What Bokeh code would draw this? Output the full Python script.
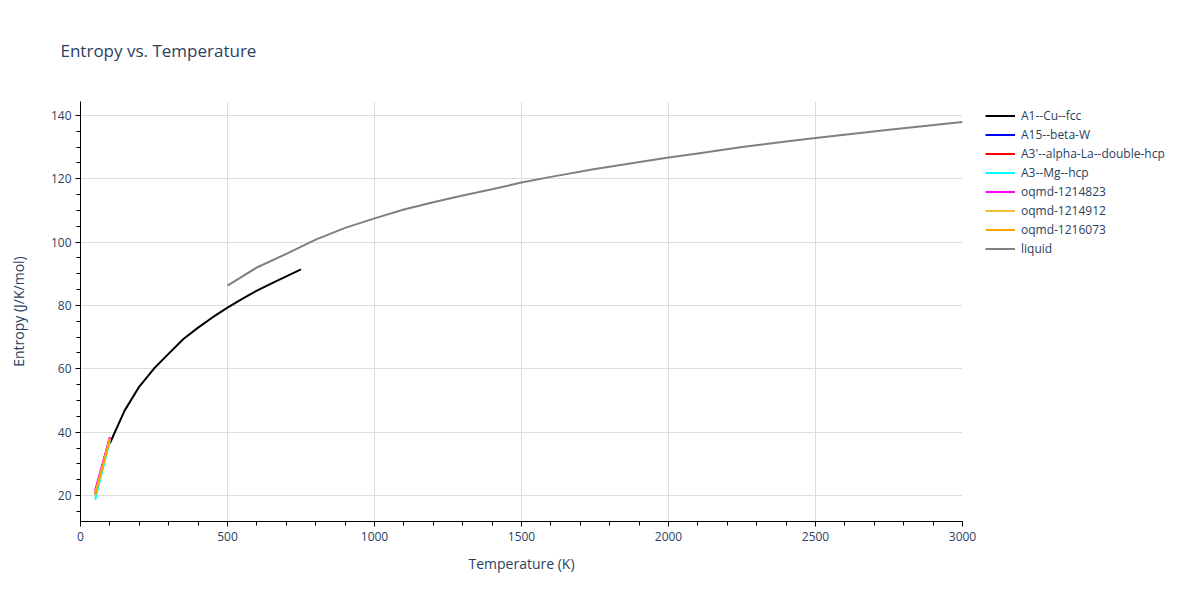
from bokeh.plotting import figure
from bokeh.models import Range1d, Legend, LegendItem, SingleIntervalTicker, Title
from bokeh.embed import file_html
from bokeh.resources import INLINE

# ---- data ----
T_fcc = [100, 150, 200, 250, 300, 350, 400, 450, 500, 550, 600, 650, 700, 750]
S_fcc = [36.5, 46.8, 54.4, 60.1, 64.8, 69.4, 73.0, 76.3, 79.3, 82.1, 84.7, 87.0, 89.2, 91.4]

T_low = [50, 100]
S_beta_w = [20.5, 38.0]
S_alpha_la = [21.0, 38.2]
S_mg_hcp = [18.7, 37.4]
S_oqmd_1214823 = [21.7, 38.5]
S_oqmd_1214912 = [20.6, 38.0]
S_oqmd_1216073 = [20.2, 37.8]

T_liq = [500, 600, 700, 800, 900, 1000, 1100, 1200, 1300, 1400, 1500, 1600, 1750,
         2000, 2100, 2250, 2400, 2500, 2750, 3000]
S_liq = [86.3, 92.0, 96.3, 100.8, 104.5, 107.5, 110.3, 112.6, 114.7, 116.7, 118.8, 120.6, 123.1,
         126.7, 128.0, 130.0, 131.8, 132.9, 135.5, 137.9]

names = ["A1--Cu--fcc", "A15--beta-W", "A3'--alpha-La--double-hcp", "A3--Mg--hcp",
         "oqmd-1214823", "oqmd-1214912", "oqmd-1216073", "liquid"]
colors = ["black", "blue", "red", "cyan", "magenta", "#F2C12E", "orange", "grey"]

series = [
    (T_fcc, S_fcc),
    (T_low, S_beta_w),
    (T_low, S_alpha_la),
    (T_low, S_mg_hcp),
    (T_low, S_oqmd_1214823),
    (T_low, S_oqmd_1214912),
    (T_low, S_oqmd_1216073),
    (T_liq, S_liq),
]

FONT = "Open Sans"
TXT = "#2a3f5f"

p = figure(frame_width=882, frame_height=420, output_backend="svg", toolbar_location=None,
           x_range=Range1d(0, 3000), y_range=Range1d(11.8, 144.4),
           min_border_left=80, min_border_right=238, min_border_top=100, min_border_bottom=80)
p.outline_line_color = None
p.background_fill_color = "white"

items = []
for (x, y), name, c in zip(series, names, colors):
    r = p.line(x, y, line_color=c, line_width=2)
    items.append(LegendItem(label=name, renderers=[r]))

# axes
p.xaxis.ticker = SingleIntervalTicker(interval=500, num_minor_ticks=5)
p.yaxis.ticker = SingleIntervalTicker(interval=20, num_minor_ticks=4)
for ax in (p.xaxis[0], p.yaxis[0]):
    ax.axis_line_color = "black"
    ax.major_tick_line_color = "black"
    ax.minor_tick_line_color = "black"
    ax.major_tick_out = 5
    ax.major_tick_in = 0
    ax.minor_tick_out = 4
    ax.minor_tick_in = 0
    ax.major_label_text_font = FONT
    ax.major_label_text_font_size = "12px"
    ax.major_label_text_color = TXT
    ax.axis_label_text_font = FONT
    ax.axis_label_text_font_size = "14px"
    ax.axis_label_text_color = TXT
    ax.axis_label_text_font_style = "normal"

p.xaxis.axis_label = "Temperature (K)"
p.yaxis.axis_label = "Entropy (J/K/mol)"
p.xaxis.major_label_standoff = 5
p.xaxis.axis_label_standoff = 10
p.yaxis.major_label_standoff = 4
p.yaxis.axis_label_standoff = 20

p.xgrid.grid_line_color = "#dcdcdc"
p.ygrid.grid_line_color = "#dcdcdc"

# title
p.title = Title(text="Entropy vs. Temperature", text_font=FONT, text_font_size="17px",
                text_color=TXT, text_font_style="normal", align="left", offset=-20,
                vertical_align="top", standoff=76)

legend = Legend(items=items, location=(23, 263), padding=0, margin=0,
                border_line_color=None, background_fill_alpha=0,
                label_text_font=FONT, label_text_font_size="12px", label_text_color=TXT,
                glyph_width=30, glyph_height=19, label_height=19, spacing=0, label_standoff=6)
p.add_layout(legend, "right")

open("out.html", "w").write(file_html(p, INLINE))
